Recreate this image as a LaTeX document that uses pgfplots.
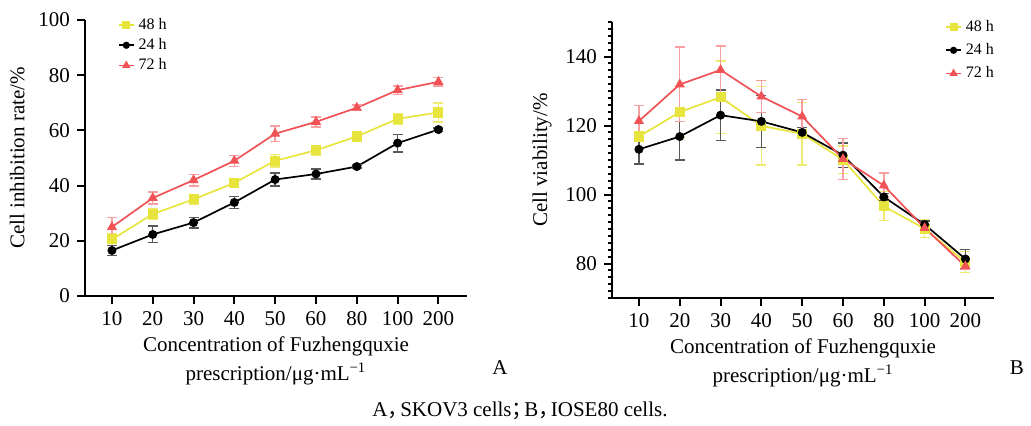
\documentclass[border=0pt]{standalone}
\usepackage{pgfplots}
\pgfplotsset{compat=1.18}
\usepackage{fontspec}
\setmainfont{Liberation Serif}
\newfontfamily\cjk{Noto Sans CJK SC}

\definecolor{cyel}{RGB}{232,228,62}
\definecolor{cred}{RGB}{240,82,86}

\pgfplotsset{
  panel/.style={
    scale only axis, width=191pt, height=138pt,
    axis x line*=bottom, axis y line*=left,
    axis line style={line width=1.1pt},
    every tick/.style={black, line width=1pt},
    tick align=outside, major tick length=4pt, minor tick length=2pt,
    xmin=-0.66, xmax=8.7,
    xtick={0,...,8}, xticklabels={10,20,30,40,50,60,80,100,200},
    /pgf/number format/assume math mode=true,
    ticklabel style={font=\fontsize{10.5}{12}\selectfont},
    label style={font=\fontsize{10.5}{14.5}\selectfont},
    xlabel style={align=center, yshift=1pt},
    legend cell align=left,
    legend style={draw=none, fill=none, font=\fontsize{8}{9}\selectfont,
      row sep=-1pt, inner sep=1pt},
    legend image code/.code={\draw[mark repeat=2,mark phase=2,mark options={scale=0.75}] plot coordinates {(0pt,0pt) (3.75pt,0pt) (7.5pt,0pt)};},
    error bars/y dir=both, error bars/y explicit,
    error bars/error mark options={rotate=90, mark size=2.5pt, line width=0.7pt},
  },
  s48/.style={cyel, line width=0.85pt, mark=square*, mark size=2.1pt,
    error bars/error bar style={cyel!75!white, line width=0.7pt}},
  s24/.style={black, line width=0.85pt, mark=*, mark size=1.8pt,
    error bars/error bar style={black!65, line width=0.7pt}},
  s72/.style={cred, line width=0.85pt, mark=triangle*, mark size=2.1pt,
    error bars/error bar style={cred!55!white, line width=0.7pt}},
}

\begin{document}
\begin{tikzpicture}
\path[use as bounding box] (0,0) rectangle (515.5pt,-213pt);

\begin{axis}[panel, at={(42.5pt,-148pt)}, anchor=south west,
    ymin=0, ymax=100, ytick={0,20,...,100},
    ylabel={Cell inhibition rate/\%},
    xlabel={Concentration of Fuzhengquxie\\prescription/μg·mL\textsuperscript{−1}},
    legend style={at={(0.08,1.03)}, anchor=north west}]
\addplot[s48] coordinates {(0,20.5) +- (0,2.2) (1,29.7) +- (0,1.8) (2,35.0) +- (0,1.8) (3,41.0) +- (0,1.4) (4,49.0) +- (0,2.3) (5,52.8) +- (0,1.7) (6,57.8) +- (0,1.0) (7,64.2) +- (0,2.0) (8,66.5) +- (0,3.4)};
\addplot[s24] coordinates {(0,16.5) +- (0,1.8) (1,22.3) +- (0,3.0) (2,26.6) +- (0,1.9) (3,33.9) +- (0,2.2) (4,42.2) +- (0,2.3) (5,44.2) +- (0,1.8) (6,46.9) +- (0,0.5) (7,55.4) +- (0,3.2) (8,60.3) +- (0,0.6)};
\addplot[s72] coordinates {(0,25.0) +- (0,3.5) (1,35.5) +- (0,2.2) (2,42.0) +- (0,2.1) (3,49.0) +- (0,2.0) (4,58.8) +- (0,2.8) (5,63.1) +- (0,1.8) (6,68.2) +- (0,1.0) (7,74.6) +- (0,1.5) (8,77.6) +- (0,1.5)};
\legend{48 h, 24 h, 72 h}
\end{axis}

\begin{axis}[panel, at={(306pt,-149pt)}, anchor=south west,
    ymin=70, ymax=150, ytick={80,100,120,140}, minor ytick={70,72,...,150},
    ylabel={Cell viability/\%},
    xlabel={Concentration of Fuzhengquxie\\prescription/μg·mL\textsuperscript{−1}},
    legend style={at={(0.866,1.03)}, anchor=north west, row sep=0.5pt}]
\addplot[s48] coordinates {(0,116.8) +- (0,3.7) (1,123.9) +- (0,7.4) (2,128.2) +- (0,10.5) (3,119.9) +- (0,11.4) (4,117.6) +- (0,9.0) (5,110.1) +- (0,4.0) (6,96.6) +- (0,4.2) (7,90.1) +- (0,2.5) (8,80.4) +- (0,3.0)};
\addplot[s24] coordinates {(0,113.1) +- (0,4.2) (1,116.8) +- (0,6.8) (2,123.0) +- (0,7.3) (3,121.2) +- (0,7.5) (4,118.0) +- (0,1.5) (5,111.4) +- (0,3.5) (6,99.3) +- (0,1.0) (7,91.3) +- (0,1.0) (8,81.3) +- (0,2.7)};
\addplot[s72] coordinates {(0,121.3) +- (0,4.5) (1,131.9) +- (0,10.8) (2,136.1) +- (0,7.0) (3,128.4) +- (0,4.7) (4,122.6) +- (0,5.0) (5,110.3) +- (0,6.0) (6,102.6) +- (0,3.6) (7,90.3) +- (0,1.0) (8,79.2) +- (0,1.0)};
\legend{48 h, 24 h, 72 h}
\end{axis}

\node[font=\fontsize{10.5}{12}\selectfont] at (260pt,-205.5pt) {A{\cjk ，}\kern-0.4em SKOV3 cells{\cjk ；}\kern-0.4em B{\cjk ，}\kern-0.4em IOSE80 cells.};
\node[font=\fontsize{10.5}{12}\selectfont] at (250pt,-184pt) {A};
\node[font=\fontsize{10.5}{12}\selectfont, anchor=east] at (515.5pt,-184pt) {B};
\end{tikzpicture}
\end{document}
